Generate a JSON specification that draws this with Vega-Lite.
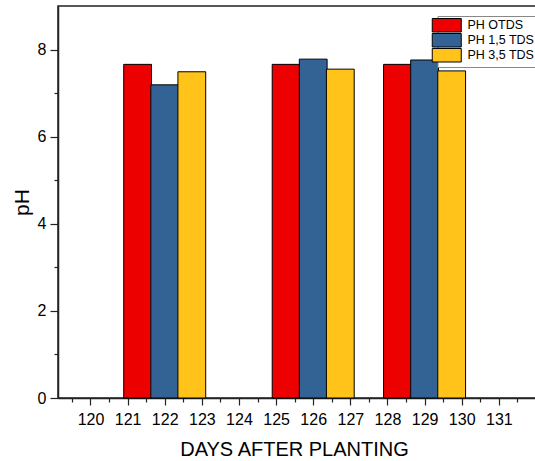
{
  "$schema": "https://vega.github.io/schema/vega-lite/v6.json",
  "autosize": {"type": "none"},
  "padding": {"left": 58, "top": 6, "right": 0, "bottom": 63},
  "width": 490,
  "height": 392,
  "background": "white",
  "config": {
    "font": "Liberation Sans",
    "view": {"stroke": "#222222", "strokeWidth": 1.5}
  },
  "data": {
    "values": [
      {"day": 121.27, "series": "PH OTDS", "pH": 7.66},
      {"day": 122.0, "series": "PH 1,5 TDS", "pH": 7.19},
      {"day": 122.73, "series": "PH 3,5 TDS", "pH": 7.49},
      {"day": 125.27, "series": "PH OTDS", "pH": 7.66},
      {"day": 126.0, "series": "PH 1,5 TDS", "pH": 7.78},
      {"day": 126.73, "series": "PH 3,5 TDS", "pH": 7.55},
      {"day": 128.27, "series": "PH OTDS", "pH": 7.66},
      {"day": 129.0, "series": "PH 1,5 TDS", "pH": 7.76},
      {"day": 129.73, "series": "PH 3,5 TDS", "pH": 7.51}
    ]
  },
  "mark": {"type": "bar", "size": 27.8, "stroke": "black", "strokeWidth": 1},
  "encoding": {
    "x": {
      "field": "day",
      "type": "quantitative",
      "scale": {"domain": [119.26, 132.19], "nice": false, "zero": false},
      "axis": {
        "title": "DAYS AFTER PLANTING",
        "titleFontSize": 20,
        "titleFontWeight": "normal",
        "titleColor": "black",
        "titlePadding": 12,
        "titleX": 236,
        "titleAlign": "center",
        "values": [119.5, 120, 120.5, 121, 121.5, 122, 122.5, 123, 123.5, 124, 124.5, 125, 125.5, 126, 126.5, 127, 127.5, 128, 128.5, 129, 129.5, 130, 130.5, 131, 131.5],
        "labelExpr": "datum.value % 1 === 0 ? format(datum.value, '.0f') : ''",
        "labelFontSize": 16,
        "labelColor": "black",
        "labelPadding": 6,
        "tickSize": {"condition": {"test": "datum.value % 1 !== 0", "value": 4}, "value": 7},
        "tickColor": "#222222",
        "tickWidth": 1.2,
        "domainColor": "#222222",
        "domainWidth": 1.5,
        "grid": false,
        "labelFlush": false,
        "labelOverlap": false
      }
    },
    "y": {
      "field": "pH",
      "type": "quantitative",
      "scale": {"domain": [0, 9], "nice": false},
      "axis": {
        "title": "pH",
        "titleFontSize": 21,
        "titleFontWeight": "normal",
        "titleColor": "black",
        "titlePadding": 5,
        "values": [0, 1, 2, 3, 4, 5, 6, 7, 8],
        "labelExpr": "datum.value % 2 === 0 ? format(datum.value, '.0f') : ''",
        "labelFontSize": 16,
        "labelColor": "black",
        "labelPadding": 4,
        "tickSize": {"condition": {"test": "datum.value % 2 !== 0", "value": 4}, "value": 8},
        "tickColor": "#222222",
        "tickWidth": 1.2,
        "domainColor": "#222222",
        "domainWidth": 1.5,
        "grid": false,
        "labelFlush": false
      }
    },
    "color": {
      "field": "series",
      "type": "nominal",
      "scale": {
        "domain": ["PH OTDS", "PH 1,5 TDS", "PH 3,5 TDS"],
        "range": ["#EC0000", "#336395", "#FFC31A"]
      },
      "legend": {
        "title": null,
        "orient": "none",
        "legendX": 379.5,
        "legendY": 10,
        "symbolType": "M-2.9,-1.35H2.9V1.35H-2.9Z",
        "symbolSize": 100,
        "symbolStrokeColor": "black",
        "symbolStrokeWidth": 1,
        "symbolOpacity": 1,
        "labelFontSize": 12.5,
        "labelColor": "black",
        "labelOffset": 14.5,
        "rowPadding": -3,
        "padding": 3,
        "strokeColor": "#888888",
        "fillColor": "white"
      }
    }
  }
}
